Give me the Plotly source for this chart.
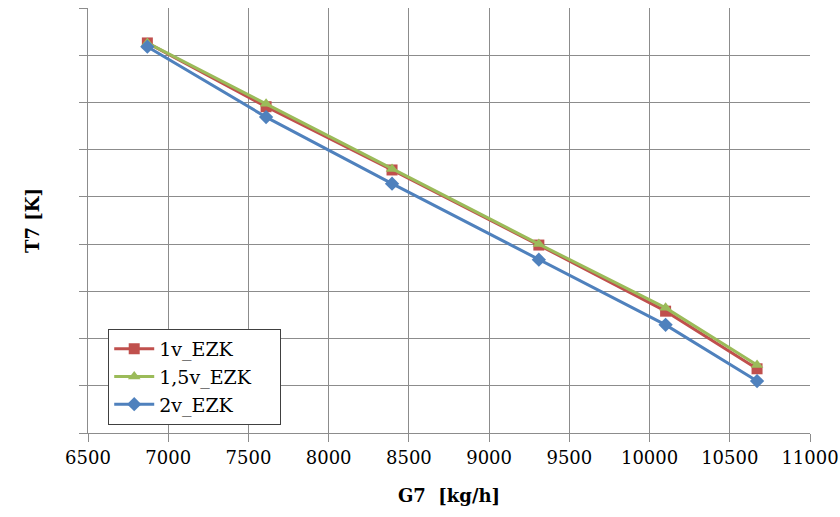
import plotly.graph_objects as go

g7 = [6870, 7610, 8395, 9310, 10100, 10670]
t7_1v = [8.26, 6.91, 5.57, 3.98, 2.58, 1.36]
t7_15v = [8.26, 6.97, 5.59, 4.00, 2.65, 1.44]
t7_2v = [8.18, 6.69, 5.28, 3.67, 2.29, 1.10]

names = ["1v_EZK", "1,5v_EZK", "2v_EZK"]
colors = ["#C0504D", "#9BBB59", "#4F81BD"]
symbols = ["square", "triangle-up", "diamond"]
series = [t7_1v, t7_15v, t7_2v]

pad = "\u00a0" * 4
fig = go.Figure()
for n, c, s, y in zip(names, colors, symbols, series):
    fig.add_trace(go.Scatter(x=g7, y=y, name=n + pad, mode="lines+markers",
                             line=dict(color=c, width=3),
                             marker=dict(symbol=s, size=11, color=c)))

font = "DejaVu Serif"
fnt = dict(family=font, size=18, color="black")
lfnt = dict(family=font, size=19, color="black")
fig.update_layout(
    width=840, height=517,
    margin=dict(l=88, r=30, t=8, b=84),
    plot_bgcolor="white", paper_bgcolor="white",
    font=fnt,
    showlegend=True,
    legend=dict(x=0.028, y=0.245, xanchor="left", yanchor="top",
                bordercolor="#404040", borderwidth=1, bgcolor="white",
                font=lfnt, itemwidth=40),
    xaxis=dict(range=[6500, 11000], dtick=500, tick0=6500, tickformat="d",
               tickfont=fnt, automargin=False,
               showgrid=True, gridcolor="#8c8c8c", gridwidth=1,
               showline=True, linecolor="#8c8c8c", linewidth=1,
               ticks="outside", ticklen=8, tickcolor="#8c8c8c",
               zeroline=False,
               title=dict(text="<b>G7\u00a0\u00a0[kg/h]</b>", standoff=22,
                          font=fnt)),
    yaxis=dict(range=[0, 9], dtick=1, tick0=0, automargin=False,
               showgrid=True, gridcolor="#8c8c8c", gridwidth=1,
               showline=True, linecolor="#8c8c8c", linewidth=1,
               ticks="outside", ticklen=8, tickcolor="#8c8c8c",
               showticklabels=False, zeroline=False,
               title=dict(text="<b>T7 [K]</b>", standoff=34,
                          font=fnt)),
)

fig.write_html("out.html")
